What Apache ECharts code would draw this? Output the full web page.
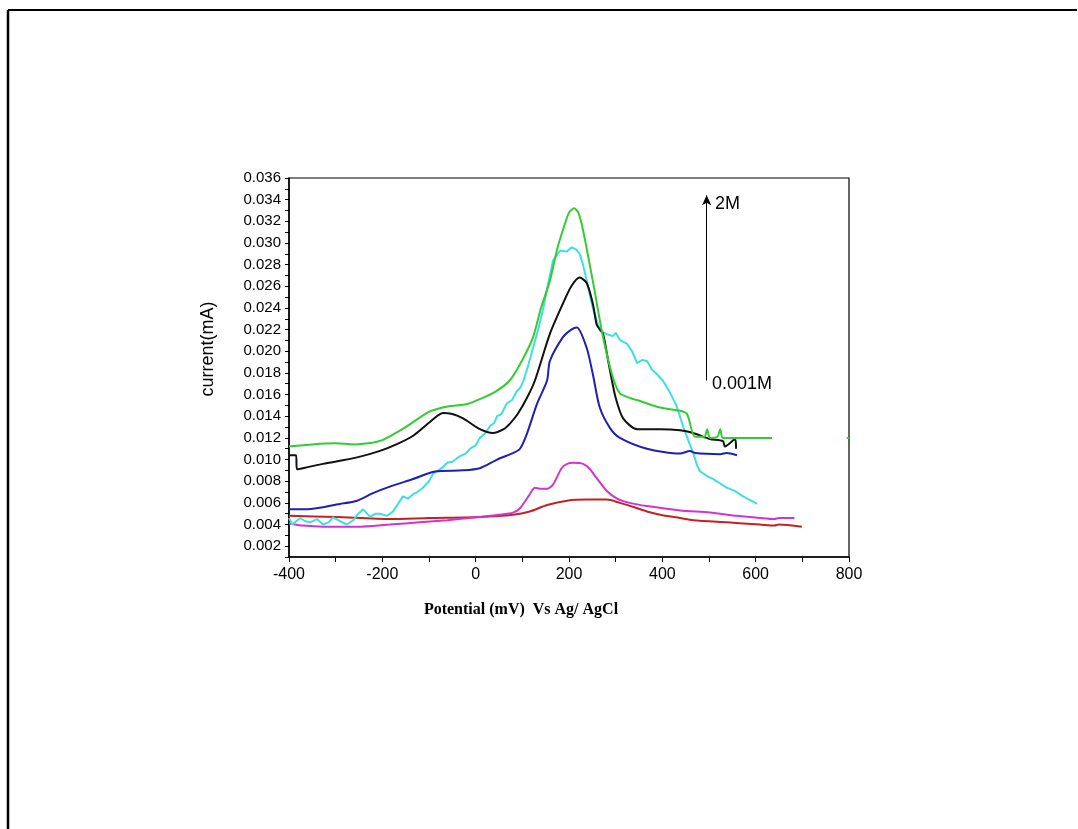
<!DOCTYPE html>
<html>
<head>
<meta charset="utf-8">
<script src="https://cdn.jsdelivr.net/npm/echarts@6/dist/echarts.min.js"></script>
<style>
  html, body { margin: 0; padding: 0; background: #fff; }
  #chart { width: 1078px; height: 829px; }
</style>
</head>
<body>
<div id="chart"></div>
<script>
// x = potential (mV), y = current (mA)
const greenData = [[-400,0.0112],[-350,0.0114],[-300,0.0115],[-260,0.0114],[-230,0.0115],[-200,0.0118],[-150,0.0130],[-100,0.0144],[-60,0.0149],[-20,0.0151],[10,0.0156],[40,0.0162],[73,0.0173],[100,0.0192],[123,0.0213],[140,0.0240],[159,0.0265],[175,0.0295],[187,0.0312],[200,0.0328],[211,0.0332],[220,0.0328],[230,0.0312],[251,0.0265],[273,0.0213],[294,0.0176],[309,0.0161],[330,0.0157],[352,0.0154],[395,0.0148],[438,0.0145],[453,0.0142],[470,0.0121],[490,0.0121],[496,0.0128],[502,0.0120],[518,0.0121],[524,0.0128],[530,0.0120],[616,0.0120],[635,0.0120],'-',[795,0.0120],[800,0.0120]];
const blackData = [[-400,0.0104],[-385,0.0104],[-383,0.0091],[-360,0.0093],[-327,0.0096],[-254,0.0102],[-205,0.0108],[-170,0.0114],[-134,0.0122],[-100,0.0134],[-70,0.0143],[-50,0.0142],[-27,0.0138],[9,0.0128],[37,0.01245],[60,0.0128],[73,0.0133],[90,0.0142],[110,0.0157],[127,0.0173],[159,0.0216],[187,0.0244],[205,0.0260],[223,0.0268],[238,0.0263],[251,0.0244],[259,0.0225],[263,0.0222],[273,0.0216],[284,0.0191],[292,0.0173],[300,0.0157],[316,0.0138],[346,0.0128],[395,0.0128],[438,0.0127],[466,0.01245],[502,0.0119],[530,0.0117],[534,0.0112],[556,0.0119],[558,0.0110]];
const blueData = [[-400,0.0054],[-361,0.0054],[-291,0.0059],[-254,0.0062],[-220,0.0069],[-184,0.0075],[-134,0.0082],[-87,0.0089],[-27,0.0090],[9,0.0092],[46,0.0100],[80,0.0106],[95,0.0110],[110,0.0124],[131,0.0151],[153,0.0173],[159,0.0191],[187,0.0213],[205,0.0220],[217,0.0222],[238,0.0203],[251,0.0179],[266,0.0148],[288,0.0129],[309,0.0120],[367,0.0110],[438,0.01055],[459,0.0108],[470,0.0106],[524,0.0105],[538,0.0106],[560,0.0104]];
const cyanData = [[-400,0.0046],[-393,0.0040],[-376,0.0046],[-365,0.0043],[-355,0.0042],[-340,0.0045],[-327,0.0040],[-315,0.0042],[-306,0.00465],[-290,0.0043],[-276,0.0040],[-262,0.0044],[-254,0.0049],[-241,0.0054],[-226,0.0047],[-215,0.0050],[-205,0.0050],[-190,0.0048],[-177,0.0052],[-165,0.0060],[-156,0.0066],[-145,0.0064],[-134,0.0068],[-125,0.0070],[-113,0.0074],[-100,0.0080],[-91,0.0087],[-80,0.0090],[-70,0.0093],[-61,0.0097],[-50,0.0098],[-34,0.0103],[-20,0.0106],[-12,0.0110],[0,0.0113],[9,0.0120],[20,0.0124],[31,0.0131],[40,0.0134],[46,0.0140],[55,0.0142],[67,0.0152],[78,0.0155],[88,0.0163],[95,0.0166],[102,0.0172],[112,0.0186],[123,0.0203],[135,0.0222],[145,0.0240],[155,0.0262],[166,0.0284],[181,0.0293],[195,0.0292],[206,0.0296],[215,0.0294],[223,0.0290],[230,0.0280],[238,0.0265],[251,0.0240],[266,0.0219],[280,0.0216],[294,0.0214],[300,0.0217],[310,0.0210],[324,0.0207],[335,0.0200],[346,0.0189],[357,0.0192],[367,0.0191],[378,0.0183],[388,0.0179],[401,0.0173],[415,0.0163],[430,0.0150],[445,0.0130],[458,0.0115],[466,0.0106],[475,0.0094],[481,0.0089],[495,0.0085],[509,0.0082],[520,0.0079],[538,0.0074],[555,0.0071],[573,0.0066],[590,0.0062],[603,0.0059]];
const magentaData = [[-400,0.0041],[-370,0.0039],[-327,0.0038],[-254,0.0038],[-184,0.0040],[-120,0.0042],[-61,0.0044],[9,0.0047],[50,0.0049],[80,0.0051],[95,0.0055],[113,0.0066],[127,0.0074],[140,0.0073],[153,0.0073],[166,0.0077],[184,0.0092],[196,0.0096],[209,0.0097],[230,0.0096],[245,0.0091],[259,0.0083],[281,0.0071],[303,0.0064],[330,0.0060],[367,0.0057],[438,0.0053],[502,0.0051],[560,0.0048],[609,0.0046],[640,0.0045],[650,0.0046],[683,0.0046]];
const redData = [[-400,0.0048],[-300,0.0047],[-184,0.0045],[-100,0.0046],[9,0.0047],[80,0.0049],[116,0.0052],[153,0.0058],[196,0.0062],[240,0.0063],[281,0.0063],[309,0.0060],[340,0.0056],[367,0.0052],[395,0.0049],[438,0.0046],[466,0.0044],[538,0.0042],[609,0.0040],[640,0.0039],[650,0.0040],[699,0.0038]];

// concentration arrow (2M at top, 0.001M at bottom)
const arrowX = 495;
const arrowFrom = 0.0173;
const arrowTo = 0.0344;

var myChart = echarts.init(document.getElementById('chart'));

function lineSeries(data, color, smooth) {
    return {
        type: 'line',
        data: data,
        showSymbol: false,
        smooth: smooth ? 0.25 : false,
        connectNulls: false,
        lineStyle: { color: color, width: 2 },
        itemStyle: { color: color },
        silent: true,
        animation: false
    };
}

var series = [
    lineSeries(redData, '#c42222', true),
    lineSeries(magentaData, '#d134d1', true),
    lineSeries(cyanData, '#3fdfe0', false),
    lineSeries(blueData, '#2020b0', true),
    lineSeries(blackData, '#111111', true),
    lineSeries(greenData, '#33cc33', true)
];
series[0].markLine = {
    silent: true,
    animation: false,
    symbol: ['none', 'arrow'],
    symbolSize: [7, 10],
    label: { show: false },
    lineStyle: { color: '#000', width: 1, type: 'solid' },
    data: [[{ coord: [arrowX, arrowFrom] }, { coord: [arrowX, arrowTo] }]]
};

var option = {
    backgroundColor: '#fff',
    animation: false,
    grid: {
        left: 289, right: 229, top: 178, bottom: 272,
        show: true, borderColor: '#000', borderWidth: 1.2
    },
    xAxis: {
        type: 'value',
        min: -400, max: 800, interval: 100,
        axisLine: { show: true, onZero: false, lineStyle: { color: '#000', width: 1.5 } },
        axisTick: { show: true, length: 5, lineStyle: { color: '#000' } },
        splitLine: { show: false },
        axisLabel: {
            margin: 10,
            color: '#000',
            fontFamily: 'Liberation Sans',
            fontSize: 16,
            formatter: (v) => (v % 200 === 0 ? String(v) : '')
        }
    },
    yAxis: {
        type: 'value',
        min: 0.001, max: 0.036, interval: 0.001,
        axisLine: { show: true, onZero: false, lineStyle: { color: '#000', width: 1.5 } },
        axisTick: { show: true, length: 4, lineStyle: { color: '#000' } },
        splitLine: { show: false },
        axisLabel: {
            margin: 8,
            color: '#000',
            fontFamily: 'Liberation Sans',
            fontSize: 15,
            formatter: (v) => (Math.round(v * 1000) % 2 === 0 ? v.toFixed(3) : '')
        }
    },
    graphic: [
        // page frame (top and left)
        { type: 'line', shape: { x1: 8, y1: 10, x2: 1077, y2: 10 }, style: { stroke: '#000', lineWidth: 2 } },
        { type: 'line', shape: { x1: 8, y1: 10, x2: 8, y2: 829 }, style: { stroke: '#000', lineWidth: 2.5 } },
        {
            type: 'text', x: 208, y: 349, rotation: Math.PI / 2,
            style: { text: 'current(mA)', fill: '#000', font: '18px "Liberation Sans"', textAlign: 'center', textVerticalAlign: 'middle' }
        },
        {
            type: 'text', x: 521, y: 610,
            style: { text: 'Potential (mV)  Vs Ag/ AgCl', fill: '#000', font: 'bold 16px "Liberation Serif"', textAlign: 'center', textVerticalAlign: 'middle' }
        },
        {
            type: 'text', x: 715, y: 204,
            style: { text: '2M', fill: '#000', font: '18px "Liberation Sans"', textAlign: 'left', textVerticalAlign: 'middle' }
        },
        {
            type: 'text', x: 712, y: 384,
            style: { text: '0.001M', fill: '#000', font: '18px "Liberation Sans"', textAlign: 'left', textVerticalAlign: 'middle' }
        }
    ],
    series: series
};

option && myChart.setOption(option);
window.addEventListener('resize', () => {
    myChart.resize()
})
</script>
</body>
</html>
